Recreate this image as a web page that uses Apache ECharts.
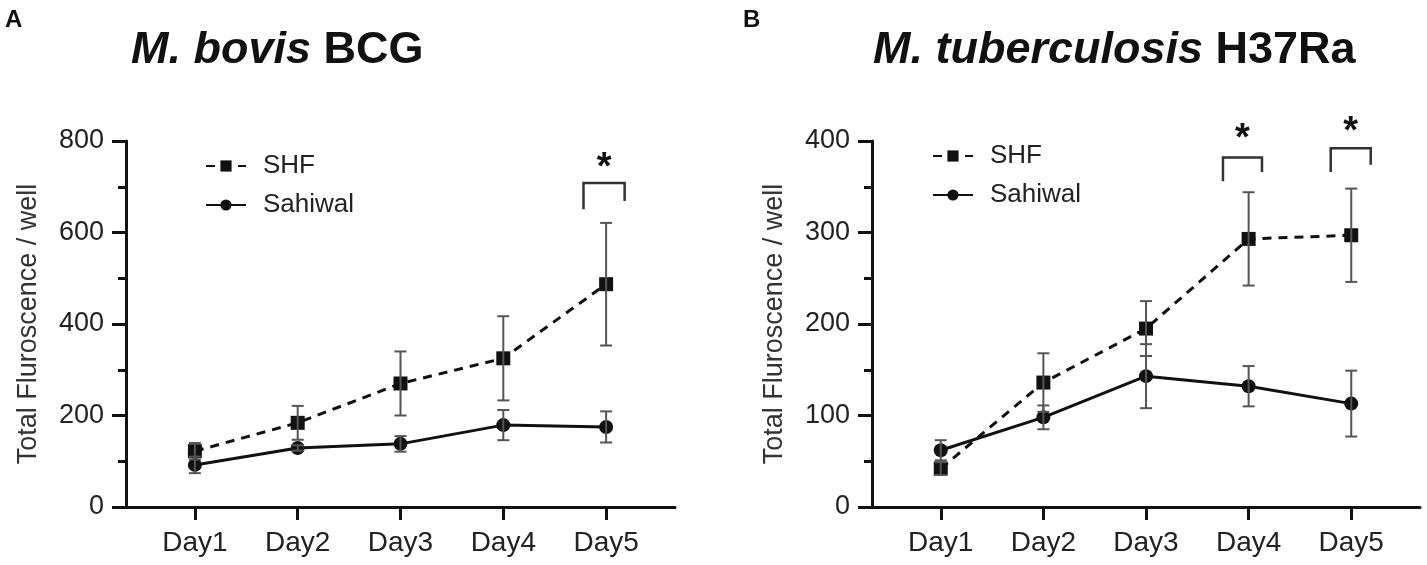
<!DOCTYPE html>
<html>
    <head>
        <meta charset="utf-8" />
        <title>Total Fluroscence / well</title>
        <script src="https://cdn.jsdelivr.net/npm/echarts@6.0.0/dist/echarts.min.js"></script>
        <style>
            html, body { margin: 0; padding: 0; background: #fff; }
        </style>
    </head>
    <body>
        <div id="grafico" style="width: 1427px; height: 565px"></div>
        <script>
            const dias = ["Day1", "Day2", "Day3", "Day4", "Day5"];

            // Painel A - M. bovis BCG
            const bcgShf = [122, 184, 270, 325, 487];
            const bcgShfErro = [18, 37, 70, 92, 134];
            const bcgSahiwal = [92, 129, 138, 179, 175];
            const bcgSahiwalErro = [18, 6, 17, 33, 34];

            // Painel B - M. tuberculosis H37Ra
            const tbShf = [42, 136, 195, 293, 297];
            const tbShfErro = [7, 32, 30, 51, 51];
            const tbSahiwal = [62, 98, 143, 132, 113];
            const tbSahiwalErro = [11, 13, 35, 22, 36];

            // colchetes de significância: [dia, esquerda, direita, topo, pernaEsq, pernaDir, asterisco]
            const sigBcg = [[5, -0.22, 0.18, 708, 651, 669, 739]];
            const sigTb = [
                [4, -0.25, 0.13, 382, 356, 366, 402],
                [5, -0.2, 0.19, 392, 366, 374, 409],
            ];

            const fonte = "Liberation Sans, Arial, sans-serif";
            const preto = "#111";

            function pontos(valores) {
                return valores.map((v, i) => [i + 1, v]);
            }

            function barras(valores, erros) {
                return valores.map((v, i) => [i + 1, v - erros[i], v + erros[i]]);
            }

            function desenhaErro(params, api) {
                const baixo = api.coord([api.value(0), api.value(1)]);
                const alto = api.coord([api.value(0), api.value(2)]);
                const w = 6;
                const estilo = {stroke: "#555", lineWidth: 2};
                return {
                    type: "group",
                    children: [
                        {type: "line", shape: {x1: baixo[0], y1: baixo[1], x2: alto[0], y2: alto[1]}, style: estilo},
                        {type: "line", shape: {x1: alto[0] - w, y1: alto[1], x2: alto[0] + w, y2: alto[1]}, style: estilo},
                        {type: "line", shape: {x1: baixo[0] - w, y1: baixo[1], x2: baixo[0] + w, y2: baixo[1]}, style: estilo},
                    ],
                };
            }

            function desenhaColchete(params, api) {
                const d = api.value(0);
                const pe = api.coord([d + api.value(1), api.value(4)]);
                const te = api.coord([d + api.value(1), api.value(3)]);
                const td = api.coord([d + api.value(2), api.value(3)]);
                const pd = api.coord([d + api.value(2), api.value(5)]);
                const est = api.coord([d + (api.value(1) + api.value(2)) / 2, api.value(6)]);
                return {
                    type: "group",
                    children: [
                        {
                            type: "polyline",
                            shape: {points: [pe, te, td, pd]},
                            style: {stroke: "#333", lineWidth: 2.5, fill: null},
                        },
                        {
                            type: "text",
                            x: est[0],
                            y: est[1],
                            style: {
                                text: "*",
                                font: "bold 38px " + fonte,
                                fill: preto,
                                align: "center",
                                verticalAlign: "middle",
                            },
                        },
                    ],
                };
            }

            function eixoX(idx) {
                return {
                    type: "value",
                    gridIndex: idx,
                    min: 0.33,
                    max: 5.67,
                    axisLine: {show: true, lineStyle: {color: preto, width: 3}},
                    axisTick: {show: true, customValues: [1, 2, 3, 4, 5], length: 13, lineStyle: {color: preto, width: 3}},
                    axisLabel: {
                        customValues: [1, 2, 3, 4, 5],
                        formatter: (v) => dias[Math.round(v) - 1],
                        fontSize: 28,
                        fontFamily: fonte,
                        color: "#222",
                        margin: 22,
                    },
                    splitLine: {show: false},
                };
            }

            function eixoY(idx, max, intervalo) {
                return {
                    type: "value",
                    gridIndex: idx,
                    min: 0,
                    max: max,
                    interval: intervalo,
                    name: "Total Fluroscence / well",
                    nameLocation: "middle",
                    nameGap: 84,
                    nameTextStyle: {fontSize: 27, fontFamily: fonte, color: "#333"},
                    axisLine: {show: true, lineStyle: {color: preto, width: 3}},
                    axisTick: {show: true, length: 14, lineStyle: {color: preto, width: 3}},
                    minorTick: {show: true, splitNumber: 2, length: 8, lineStyle: {color: preto, width: 3}},
                    axisLabel: {fontSize: 27, fontFamily: fonte, color: "#222", margin: 22},
                    splitLine: {show: false},
                };
            }

            function serieLinha(nome, valores, idx, tracejado) {
                return {
                    name: nome,
                    type: "line",
                    xAxisIndex: idx,
                    yAxisIndex: idx,
                    data: pontos(valores),
                    symbol: tracejado ? "rect" : "circle",
                    symbolSize: 14,
                    lineStyle: {color: preto, width: 3, type: tracejado ? [9, 7] : "solid"},
                    itemStyle: {color: preto},
                    z: 3,
                };
            }

            function serieErro(valores, erros, idx) {
                return {
                    type: "custom",
                    xAxisIndex: idx,
                    yAxisIndex: idx,
                    data: barras(valores, erros),
                    renderItem: desenhaErro,
                    z: 4,
                    silent: true,
                };
            }

            function serieSig(dados, idx) {
                return {
                    type: "custom",
                    xAxisIndex: idx,
                    yAxisIndex: idx,
                    data: dados,
                    renderItem: desenhaColchete,
                    silent: true,
                };
            }

            function legenda(esq, topo) {
                return {
                    data: ["SHF", "Sahiwal"],
                    orient: "vertical",
                    left: esq,
                    top: topo,
                    itemWidth: 40,
                    itemHeight: 14,
                    itemGap: 13,
                    textStyle: {fontSize: 26, fontFamily: fonte, color: "#222", padding: [0, 0, 0, 12]},
                };
            }

            const myChart = echarts.init(document.getElementById("grafico"));
            const option = {
                animation: false,
                title: [
                    {text: "A", left: 0, top: 3, textStyle: {fontSize: 24, fontWeight: "bold", fontFamily: fonte, color: preto}},
                    {text: "B", left: 738, top: 3, textStyle: {fontSize: 24, fontWeight: "bold", fontFamily: fonte, color: preto}},
                    {
                        text: "{i|M. bovis} BCG",
                        left: 126,
                        top: 23,
                        textStyle: {
                            fontSize: 45,
                            fontWeight: "bold",
                            fontFamily: fonte,
                            color: preto,
                            rich: {i: {fontSize: 45, fontWeight: "bold", fontStyle: "italic", fontFamily: fonte, color: preto}},
                        },
                    },
                    {
                        text: "{i|M. tuberculosis} H37Ra",
                        left: 868,
                        top: 23,
                        textStyle: {
                            fontSize: 45,
                            fontWeight: "bold",
                            fontFamily: fonte,
                            color: preto,
                            rich: {i: {fontSize: 45, fontWeight: "bold", fontStyle: "italic", fontFamily: fonte, color: preto}},
                        },
                    },
                ],
                legend: [legenda(200, 148), legenda(927, 138)],
                grid: [
                    {left: 126, top: 141, width: 549, height: 366},
                    {left: 872, top: 141, width: 548, height: 366},
                ],
                xAxis: [eixoX(0), eixoX(1)],
                yAxis: [eixoY(0, 800, 200), eixoY(1, 400, 100)],
                series: [
                    serieLinha("SHF", bcgShf, 0, true),
                    serieLinha("Sahiwal", bcgSahiwal, 0, false),
                    serieErro(bcgShf, bcgShfErro, 0),
                    serieErro(bcgSahiwal, bcgSahiwalErro, 0),
                    serieSig(sigBcg, 0),
                    serieLinha("SHF", tbShf, 1, true),
                    serieLinha("Sahiwal", tbSahiwal, 1, false),
                    serieErro(tbShf, tbShfErro, 1),
                    serieErro(tbSahiwal, tbSahiwalErro, 1),
                    serieSig(sigTb, 1),
                ],
            };

            myChart.setOption(option);
        </script>
    </body>
</html>
